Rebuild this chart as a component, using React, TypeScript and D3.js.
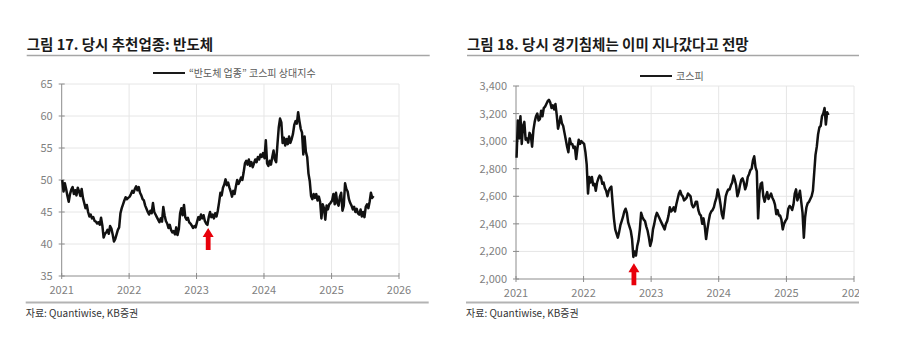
import React, { useEffect, useRef } from "react";
import * as d3 from "d3";

// "반도체 업종" 코스피 상대지수, weekly
const semi2021 = [50.0, 48.2, 49.5, 48.6, 47.5, 46.6, 47.8, 48.5, 48.9, 47.8, 48.4, 47.6, 48.8,
  48.2, 47.5, 48.6, 47.2, 46.4, 45.6, 46.1, 45.0, 44.3, 44.6, 44.0, 44.2, 43.6,
  43.5, 43.2, 43.4, 43.0, 44.1, 42.9, 41.0, 41.6, 41.8, 42.2, 41.6, 42.8, 42.4,
  41.5, 40.4, 40.8, 41.5, 42.2, 42.6, 44.8, 45.6, 46.2, 46.8, 47.3, 47.0, 47.2];
const semi2022 = [47.4, 47.8, 48.3, 48.0, 48.6, 49.0, 48.4, 48.9, 48.0, 47.6, 47.0, 46.8, 46.0,
  45.5, 45.0, 44.6, 45.2, 44.8, 46.4, 45.0, 44.6, 44.2, 43.8, 43.4, 44.0, 43.5,
  45.8, 44.5, 43.6, 43.2, 42.5, 43.0, 42.2, 41.8, 42.0, 41.5, 42.6, 41.4, 42.3,
  44.8, 45.6, 44.5, 46.1, 44.2, 43.8, 44.1, 43.4, 43.2, 42.9, 42.5, 42.8, 42.6];
const semi2023 = [43.5, 44.2, 43.8, 44.6, 44.0, 44.5, 43.6, 43.2, 43.0, 44.2, 45.0, 44.2, 44.6,
  44.0, 44.8, 44.3, 45.2, 46.5, 48.0, 47.6, 48.8, 49.3, 50.1, 49.2, 49.6, 48.8,
  48.2, 47.4, 48.3, 47.8, 49.0, 50.0, 49.4, 49.8, 50.4, 50.0, 51.2, 52.6, 53.0,
  52.4, 53.2, 52.2, 52.8, 52.0, 52.6, 53.2, 52.8, 53.6, 53.2, 54.0, 53.6, 54.2];
const semi2024 = [53.4, 56.2, 52.6, 52.2, 53.0, 52.4, 53.6, 54.6, 53.2, 52.8, 55.6, 58.2, 59.6,
  59.0, 55.8, 56.6, 55.4, 56.4, 55.6, 56.8, 55.8, 56.4, 57.2, 58.6, 59.2, 58.8,
  60.6, 59.2, 58.0, 57.4, 54.0, 56.8, 54.4, 53.6, 51.0, 49.8, 47.5, 47.0, 47.8,
  47.2, 47.8, 46.8, 47.4, 46.6, 44.0, 46.2, 45.6, 43.8, 46.0, 45.4, 46.2, 46.4];
const semi2025 = [46.8, 47.8, 46.2, 48.0, 46.4, 46.0, 47.4, 48.0, 45.2, 46.0, 49.5, 48.6, 48.2,
  47.0, 46.4, 46.0, 45.4, 45.8, 45.0, 45.5, 44.8, 44.6, 45.4, 44.3, 45.0, 44.2,
  45.8, 46.2, 45.6, 46.6, 48.0, 47.2, 47.5];

// 코스피, weekly
const kospi2021 = [2880, 3150, 3020, 3180, 2980, 3110, 3140, 3010, 3020, 2990, 3060, 3040, 2960,
  3080, 3140, 3180, 3200, 3150, 3160, 3220, 3180, 3240, 3250, 3270, 3290, 3300,
  3280, 3240, 3260, 3230, 3270, 3190, 3090, 3130, 3180, 3130, 3110, 3060, 3010,
  2960, 2920, 3020, 2980, 2980, 2950, 2960, 2870, 2950, 3010, 2980, 3000, 2990];
const kospi2022 = [2980, 2920, 2830, 2620, 2740, 2700, 2740, 2680, 2690, 2640, 2700, 2730, 2750,
  2740, 2690, 2700, 2660, 2640, 2600, 2640, 2660, 2670, 2550, 2440, 2360, 2330,
  2300, 2340, 2390, 2420, 2450, 2490, 2510, 2480, 2410, 2380, 2350, 2290, 2160,
  2200, 2170, 2240, 2280, 2360, 2480, 2450, 2430, 2420, 2380, 2350, 2300, 2240];
const kospi2023 = [2280, 2360, 2400, 2450, 2480, 2460, 2440, 2420, 2400, 2380, 2360, 2400, 2420,
  2460, 2520, 2490, 2500, 2520, 2490, 2540, 2580, 2620, 2640, 2610, 2600, 2570,
  2580, 2590, 2620, 2610, 2600, 2540, 2520, 2530, 2560, 2560, 2500, 2470, 2460,
  2400, 2440, 2380, 2290, 2360, 2420, 2470, 2490, 2500, 2520, 2560, 2590, 2650];
const kospi2024 = [2600, 2540, 2470, 2440, 2520, 2600, 2630, 2650, 2650, 2680, 2700, 2750,
  2720, 2680, 2600, 2630, 2680, 2720, 2730, 2700, 2650, 2680, 2740, 2760, 2790,
  2800, 2860, 2890, 2810, 2780, 2440, 2620, 2690, 2700, 2600, 2560, 2600, 2630,
  2580, 2600, 2620, 2590, 2570, 2540, 2470, 2500, 2460, 2460, 2430, 2360, 2400, 2420];
const kospi2025 = [2440, 2510, 2530, 2520, 2500, 2540, 2620, 2650, 2570, 2600, 2640, 2560, 2480,
  2300, 2450, 2520, 2550, 2560, 2580, 2600, 2640, 2770, 2900, 2960, 3050, 3100,
  3110, 3180, 3200, 3240, 3120, 3210, 3190];

const years = [2021, 2022, 2023, 2024, 2025, 2026];
const semiTicks = [35, 40, 45, 50, 55, 60, 65];
const kospiTicks = [2000, 2200, 2400, 2600, 2800, 3000, 3200, 3400];

const weekly = (year: number, vals: number[]) =>
  vals.map((v, i) => ({ date: new Date(year, 0, 4 + 7 * i), value: v }));

const semiData = [
  ...weekly(2021, semi2021), ...weekly(2022, semi2022), ...weekly(2023, semi2023),
  ...weekly(2024, semi2024), ...weekly(2025, semi2025),
];
const kospiData = [
  ...weekly(2021, kospi2021), ...weekly(2022, kospi2022), ...weekly(2023, kospi2023),
  ...weekly(2024, kospi2024), ...weekly(2025, kospi2025),
];

const KR = "'Noto Sans CJK KR', 'Noto Sans', sans-serif";

type Panel = {
  left: number; right: number; top: number; bottom: number;
  title: string; legend: string; legendX: number; legendY: number;
  data: { date: Date; value: number }[];
  domain: [number, number]; ticks: number[]; fmt: (v: number) => string;
  arrowDate: Date; arrowValue: number; arrowLen: number;
  clipRight: number;
};

function drawPanel(svg: d3.Selection<SVGSVGElement, unknown, null, undefined>, p: Panel, idx: number) {
  const x = d3.scaleTime()
    .domain([new Date(2021, 0, 1), new Date(2026, 0, 1)])
    .range([p.left, p.right]);
  const y = d3.scaleLinear().domain(p.domain).range([p.bottom, p.top]);

  svg.append("clipPath").attr("id", "clip" + idx)
    .append("rect").attr("x", p.left - 60).attr("y", 0)
    .attr("width", p.clipRight - p.left + 60).attr("height", 359);

  const g = svg.append("g").attr("clip-path", `url(#clip${idx})`);
  const titleX = p.left - (idx === 0 ? 35 : 49);

  // title and rules
  g.append("text")
    .attr("x", titleX).attr("y", 50)
    .attr("font-family", KR).attr("font-size", "14.5px").attr("font-weight", 700)
    .attr("fill", "#1a1a1a")
    .text(p.title);
  g.append("line")
    .attr("x1", titleX).attr("x2", titleX + 403)
    .attr("y1", 55.5).attr("y2", 55.5)
    .attr("stroke", "#a6a6a6").attr("stroke-width", 1.5);
  g.append("line")
    .attr("x1", titleX - 1).attr("x2", titleX + 402)
    .attr("y1", 302.5).attr("y2", 302.5)
    .attr("stroke", "#b3b3b3").attr("stroke-width", 2);
  g.append("text")
    .attr("x", titleX - 1).attr("y", 317)
    .attr("font-family", KR).attr("font-size", "10px")
    .attr("fill", "#333")
    .text("자료: Quantiwise, KB증권");

  // grid
  g.append("g").selectAll("line").data(p.ticks.slice(1)).enter().append("line")
    .attr("x1", p.left).attr("x2", p.right)
    .attr("y1", (d) => y(d)).attr("y2", (d) => y(d))
    .attr("stroke", "#e6e6e6").attr("stroke-width", 1);
  g.append("g").selectAll("line").data(years.slice(1)).enter().append("line")
    .attr("x1", (d) => x(new Date(d, 0, 1))).attr("x2", (d) => x(new Date(d, 0, 1)))
    .attr("y1", p.top).attr("y2", p.bottom)
    .attr("stroke", "#e6e6e6").attr("stroke-width", 1);

  // axes
  g.append("line")
    .attr("x1", p.left).attr("x2", p.left).attr("y1", p.top).attr("y2", p.bottom)
    .attr("stroke", "#8c8c8c");
  g.append("line")
    .attr("x1", p.left).attr("x2", p.right).attr("y1", p.bottom).attr("y2", p.bottom)
    .attr("stroke", "#8c8c8c");
  g.append("g").selectAll("line").data(p.ticks).enter().append("line")
    .attr("x1", p.left - 3).attr("x2", p.left + 3)
    .attr("y1", (d) => y(d)).attr("y2", (d) => y(d))
    .attr("stroke", "#8c8c8c");
  g.append("g").selectAll("line").data(years).enter().append("line")
    .attr("x1", (d) => x(new Date(d, 0, 1))).attr("x2", (d) => x(new Date(d, 0, 1)))
    .attr("y1", p.bottom - 3).attr("y2", p.bottom + 3)
    .attr("stroke", "#8c8c8c");
  g.append("g").selectAll("text").data(p.ticks).enter().append("text")
    .attr("x", p.left - 9).attr("y", (d) => y(d) + 4)
    .attr("text-anchor", "end")
    .attr("font-family", KR).attr("font-size", "11px").attr("fill", "#7f7f7f")
    .text((d) => p.fmt(d));
  g.append("g").selectAll("text").data(years).enter().append("text")
    .attr("x", (d) => x(new Date(d, 0, 1))).attr("y", p.bottom + 18)
    .attr("text-anchor", "middle")
    .attr("font-family", KR).attr("font-size", "11px").attr("fill", "#7f7f7f")
    .text((d) => d);

  // legend
  g.append("line")
    .attr("x1", p.legendX).attr("x2", p.legendX + 32)
    .attr("y1", p.legendY).attr("y2", p.legendY)
    .attr("stroke", "#1a1a1a").attr("stroke-width", 2);
  g.append("text")
    .attr("x", p.legendX + 36).attr("y", p.legendY + 3.5)
    .attr("font-family", KR).attr("font-size", "10px").attr("fill", "#595959")
    .text(p.legend);

  // series
  const line = d3.line<{ date: Date; value: number }>()
    .x((d) => x(d.date)).y((d) => y(d.value));
  g.append("path")
    .datum(p.data)
    .attr("d", line)
    .attr("fill", "none").attr("stroke", "#111")
    .attr("stroke-width", 2.5).attr("stroke-linejoin", "round");

  // red arrow
  const ax = x(p.arrowDate), ay = y(p.arrowValue);
  const L = p.arrowLen;
  const pts: [number, number][] = [
    [ax, ay], [ax + 5.5, ay + 9], [ax + 2.4, ay + 9], [ax + 2.4, ay + L],
    [ax - 2.4, ay + L], [ax - 2.4, ay + 9], [ax - 5.5, ay + 9],
  ];
  g.append("path")
    .attr("d", "M" + pts.map((q) => q.join(",")).join("L") + "Z")
    .attr("fill", "#e8000b");
}

export default function App() {
  const ref = useRef<SVGSVGElement>(null);

  useEffect(() => {
    const svg = d3.select(ref.current!);
    svg.selectAll("*").remove();

    drawPanel(svg, {
      left: 61.7, right: 399, top: 84, bottom: 276,
      title: "그림 17. 당시 추천업종: 반도체",
      legend: "“반도체 업종” 코스피 상대지수", legendX: 153, legendY: 73,
      data: semiData, domain: [35, 65], ticks: semiTicks, fmt: (v) => String(v),
      arrowDate: new Date(2023, 2, 5), arrowValue: 42.5, arrowLen: 22,
      clipRight: 440,
    }, 0);

    drawPanel(svg, {
      left: 516, right: 854, top: 86, bottom: 279,
      title: "그림 18. 당시 경기침체는 이미 지나갔다고 전망",
      legend: "코스피", legendX: 640, legendY: 76,
      data: kospiData, domain: [2000, 3400], ticks: kospiTicks, fmt: d3.format(","),
      arrowDate: new Date(2022, 8, 30), arrowValue: 2115, arrowLen: 22,
      clipRight: 859,
    }, 1);
  }, []);

  return (
    <svg
      ref={ref}
      width={900}
      height={359}
      style={{ position: "absolute", left: 0, top: 0, background: "#fff" }}
    />
  );
}
